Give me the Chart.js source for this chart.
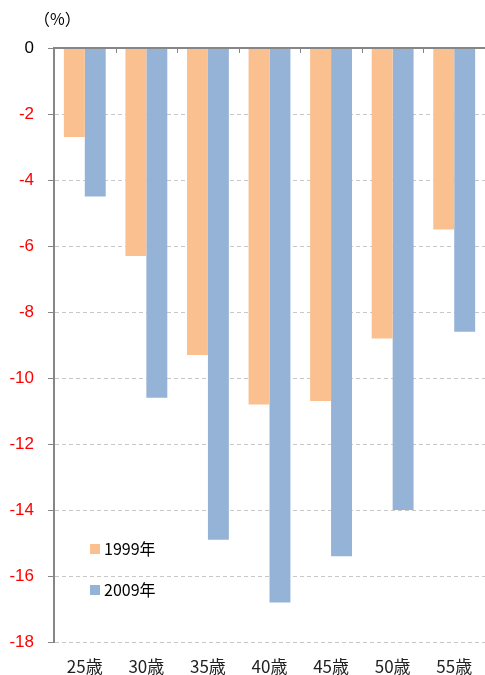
<!DOCTYPE html>
<html>
<head>
<meta charset="utf-8">
<script src="https://cdn.jsdelivr.net/npm/chart.js@4/dist/chart.umd.min.js"></script>
<style>
  html, body { margin: 0; padding: 0; background: #fff; }
  #wrap { width: 485px; height: 675px; position: relative; }
</style>
</head>
<body>
<div id="wrap"><canvas id="myChart"></canvas></div>
<script>
const ages = ['25歳', '30歳', '35歳', '40歳', '45歳', '50歳', '55歳'];
const yearLabels = ['1999年', '2009年'];
const v1999 = [-2.7, -6.3, -9.3, -10.8, -10.7, -8.8, -5.5];
const v2009 = [-4.5, -10.6, -14.9, -16.8, -15.4, -14.0, -8.6];
const yTicks = [0, -2, -4, -6, -8, -10, -12, -14, -16, -18];
const barColors = ['#FAC090', '#95B3D7'];

const FONT = "'Noto Sans CJK JP', 'Noto Sans', sans-serif";

// zero line, category ticks, unit label and legend inside the plot
const extras = {
  id: 'extras',
  afterDraw(chart) {
    const c = chart.ctx, a = chart.chartArea;
    const y = chart.scales.y;
    const y0 = y.getPixelForValue(0);
    c.save();
    c.strokeStyle = '#868686';
    c.lineWidth = 2;
    c.beginPath();
    c.moveTo(a.left, y0);
    c.lineTo(a.right, y0);
    c.stroke();
    c.lineWidth = 1;
    const step = (a.right - a.left) / ages.length;
    for (let i = 1; i < ages.length; i++) {
      const px = Math.round(a.left + step * i) + 0.5;
      c.beginPath();
      c.moveTo(px, y0);
      c.lineTo(px, y0 + 5);
      c.stroke();
    }

    c.fillStyle = '#000';
    c.font = '16px ' + FONT;
    c.textBaseline = 'middle';
    c.textAlign = 'left';
    c.fillText('（%）', 34, 19);

    const items = [[yearLabels[0], barColors[0], 549], [yearLabels[1], barColors[1], 590]];
    c.font = '16px ' + FONT;
    for (const [txt, col, py] of items) {
      c.fillStyle = col;
      c.fillRect(90, py - 5, 10, 10);
      c.fillStyle = '#000';
      c.fillText(txt, 104, py);
    }
    c.restore();
  }
};

const ctx = document.querySelector('#myChart').getContext('2d');
new Chart(ctx, {
  type: 'bar',
  data: {
    labels: ages,
    datasets: [
      { label: yearLabels[0], data: v1999, backgroundColor: barColors[0] },
      { label: yearLabels[1], data: v2009, backgroundColor: barColors[1] },
    ],
  },
  options: {
    responsive: true,
    maintainAspectRatio: false,
    animation: false,
    layout: { padding: { top: 48, right: 0, left: 0, bottom: 0 } },
    datasets: { bar: { categoryPercentage: 0.68, barPercentage: 1.0 } },
    plugins: {
      legend: { display: false },
      tooltip: { enabled: false },
    },
    scales: {
      x: {
        grid: { display: false },
        border: { display: false },
        ticks: { color: '#222', font: { family: FONT, size: 17 }, padding: 6 },
        afterFit(s) { s.height = 33; },
      },
      y: {
        min: -18,
        max: 0,
        afterBuildTicks(s) { s.ticks = yTicks.map(v => ({ value: v })); },
        grid: {
          color: ctx => ctx.tick && ctx.tick.value === 0 ? 'rgba(0,0,0,0)' : '#C8C8C8',
          tickColor: '#868686',
          tickLength: 6,
          tickBorderDash: [],
        },
        border: { display: true, color: '#868686', width: 2, dash: [4, 3] },
        ticks: {
          color: ctx => ctx.tick.value < 0 ? '#FF0000' : '#000',
          font: { family: "'Liberation Sans', sans-serif", size: 17 },
          padding: 14,
        },
        afterFit(s) { s.width = 54; },
      },
    },
  },
  plugins: [extras],
});
</script>
</body>
</html>
